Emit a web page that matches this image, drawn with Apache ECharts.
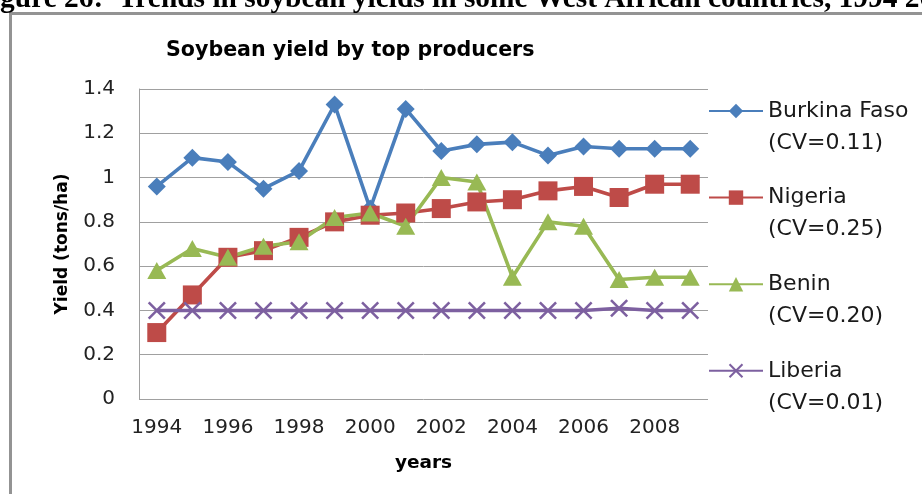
<!DOCTYPE html>
<html><head><meta charset="utf-8">
<script src="https://cdn.jsdelivr.net/npm/echarts@6/dist/echarts.min.js"></script>
<style>html,body{margin:0;padding:0;background:#fff;overflow:hidden}#c{width:922px;height:494px}</style>
</head><body><div id="c"></div>
<script>
const years = ['1994','1995','1996','1997','1998','1999','2000','2001','2002','2003','2004','2005','2006','2007','2008','2009'];
const yTicks = { min: 0, max: 1.4, interval: 0.2 };
const burkinaFaso = [0.96,1.09,1.07,0.95,1.03,1.33,0.86,1.31,1.12,1.15,1.16,1.10,1.14,1.13,1.13,1.13];
const nigeria     = [0.30,0.47,0.64,0.67,0.73,0.80,0.83,0.84,0.86,0.89,0.90,0.94,0.96,0.91,0.97,0.97];
const benin       = [0.58,0.68,0.64,0.69,0.71,0.82,0.84,0.78,1.00,0.98,0.55,0.80,0.78,0.54,0.55,0.55];
const liberia     = [0.40,0.40,0.40,0.40,0.40,0.40,0.40,0.40,0.40,0.40,0.40,0.40,0.40,0.41,0.40,0.40];
const seriesNames = ['Burkina Faso\n(CV=0.11)','Nigeria\n(CV=0.25)','Benin\n(CV=0.20)','Liberia\n(CV=0.01)'];
const captionText = 'Figure 26:  Trends in soybean yields in some West African countries, 1994 2009';
const titleText = 'Soybean yield by top producers';

const FONT = 'DejaVu Sans';
const crossPath = 'path://M0,1L1,0L10,9L9,10ZM9,0L10,1L1,10L0,9Z';
const chart = echarts.init(document.getElementById('c'), null, {renderer:'canvas'});
function mk(name, data, color, symbol, size){
  return {
    name: name, type: 'line', data: data, symbol: symbol, symbolSize: size,
    lineStyle: {color: color, width: 3.6},
    itemStyle: {color: color},
    animation: false, z: 3
  };
}
chart.setOption({
  animation: false,
  backgroundColor: '#fff',
  title: {
    text: titleText, left: 166, top: 40, padding: 0,
    textStyle: {fontFamily: FONT, fontWeight: 'bold', fontSize: 20.6, color: '#000'}
  },
  grid: {left: 139, right: 214, top: 89, bottom: 95, containLabel: false},
  legend: {
    orient: 'vertical', left: 708, top: 63, padding: 0, itemGap: -9.4,
    itemWidth: 54, itemHeight: 18,
    data: seriesNames,
    formatter: function(n){ return '\n' + n; },
    textStyle: {fontFamily: FONT, fontSize: 22, color: '#1a1a1a', lineHeight: 32}
  },
  xAxis: {
    type: 'category', data: years, boundaryGap: true,
    axisLine: {show: false}, axisTick: {show: false},
    axisLabel: {interval: 1, margin: 19, fontFamily: FONT, fontSize: 20, color: '#222'},
    name: 'years', nameLocation: 'middle', nameGap: 55,
    nameTextStyle: {fontFamily: FONT, fontWeight: 'bold', fontSize: 18.5, color: '#000'}
  },
  yAxis: {
    type: 'value', min: yTicks.min, max: yTicks.max, interval: yTicks.interval,
    axisLine: {show: true, lineStyle: {color: '#a0a0a0', width: 1}},
    axisTick: {show: false},
    splitLine: {lineStyle: {color: '#a0a0a0', width: 1}},
    axisLabel: {margin: 24, fontFamily: FONT, fontSize: 20, color: '#222'},
    name: 'Yield (tons/ha)', nameLocation: 'middle', nameGap: 68, nameRotate: 90,
    nameTextStyle: {fontFamily: FONT, fontWeight: 'bold', fontSize: 17, color: '#000'}
  },
  graphic: [
    {type: 'rect', shape: {x: 10.5, y: 13.5, width: 1000, height: 1000}, style: {fill: 'none', stroke: '#939393', lineWidth: 3}, silent: true, z: 0},
    {type: 'text', x: -26, y: -0.5, style: {text: captionText, fontFamily: 'Liberation Serif', fontWeight: 'bold', fontSize: 29.4, fill: '#000', verticalAlign: 'middle', align: 'left'}, silent: true}
  ],
  series: [
    mk(seriesNames[0], burkinaFaso, '#4A7EBB', 'diamond', 18),
    mk(seriesNames[1], nigeria, '#BE4B48', 'rect', 19),
    mk(seriesNames[2], benin, '#98B954', 'triangle', [19,17]),
    mk(seriesNames[3], liberia, '#7D60A0', crossPath, 18)
  ]
});
</script></body></html>
